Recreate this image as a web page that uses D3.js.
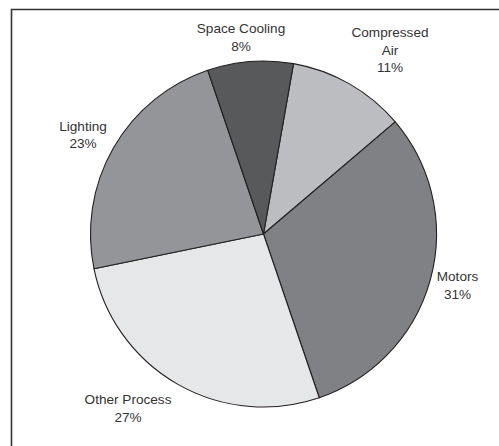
<!DOCTYPE html>
<html>
<head>
<meta charset="utf-8">
<script src="https://cdn.jsdelivr.net/npm/d3@7"></script>
<style>
  html, body { margin: 0; padding: 0; background: #fff; }
  svg { display: block; }
</style>
</head>
<body>
<svg id="chart" width="499" height="446"></svg>
<script>
const categories = ["Compressed Air", "Motors", "Other Process", "Lighting", "Space Cooling"];
const values = [11, 31, 27, 23, 8];
const labelLines = [["Compressed", "Air", "11%"], ["Motors", "31%"], ["Other Process", "27%"], ["Lighting", "23%"], ["Space Cooling", "8%"]];
const colors = ["#bcbdc0", "#808184", "#e6e7e8", "#939598", "#58595b"];

const svg = d3.select("#chart");
const cx = 263.5, cy = 234, r = 173;

// frame (top and left edges)
svg.append("path")
  .attr("d", "M11.5,446 L11.5,9.5 L499,9.5")
  .attr("fill", "none").attr("stroke", "#333").attr("stroke-width", 1.6);

const start = 10 * Math.PI / 180;
const pie = d3.pie().sort(null).value(d => d)
  .startAngle(start).endAngle(start + 2 * Math.PI);
const arcs = pie(values);
const arc = d3.arc().innerRadius(0).outerRadius(r);

const g = svg.append("g").attr("transform", `translate(${cx},${cy})`);
g.selectAll("path.slice").data(arcs).enter().append("path")
  .attr("class", "slice")
  .attr("d", arc)
  .attr("fill", (d, i) => colors[i])
  .attr("stroke", "#231f20")
  .attr("stroke-width", 1.1)
  .attr("stroke-linejoin", "round");

// label layout: offset of label block centre from pie centre
const labelOffset = [[126.5, -184], [194, 51], [-135.5, 174], [-180.5, -99.5], [-22.5, -197]];
const lineH = 17.5;
arcs.forEach((d, i) => {
  const lines = labelLines[i];
  const [x, y] = labelOffset[i];
  const t = g.append("text")
    .attr("text-anchor", "middle")
    .attr("font-family", "Liberation Sans, Arial, sans-serif")
    .attr("font-size", 13.6)
    .attr("fill", "#333");
  const y0 = y - (lines.length - 1) * lineH / 2;
  lines.forEach((ln, k) => {
    t.append("tspan").attr("x", x).attr("y", y0 + k * lineH).attr("dy", "0.35em").text(ln);
  });
});
</script>
</body>
</html>
